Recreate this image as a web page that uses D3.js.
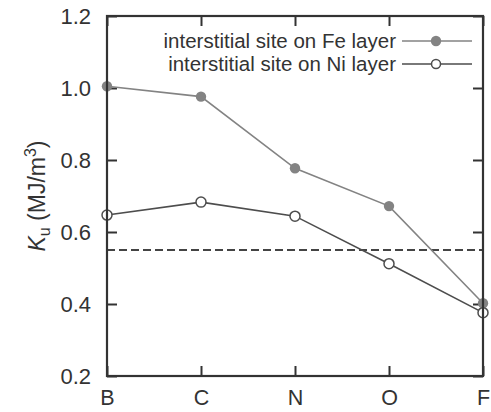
<!DOCTYPE html>
<html><head><meta charset="utf-8">
<script src="https://cdn.jsdelivr.net/npm/d3@7"></script>
<style>body{margin:0;background:#fff}svg{display:block;font-family:"Liberation Sans",Arial,sans-serif}</style>
</head><body><svg id="c" width="491" height="412"></svg>
<script>
const categories = ["B","C","N","O","F"];
const feValues = [1.005, 0.976, 0.777, 0.672, 0.402];
const niValues = [0.647, 0.683, 0.644, 0.512, 0.376];
const refValue = 0.55;
const yTicks = [0.2, 0.4, 0.6, 0.8, 1.0, 1.2];
const seriesNames = ["interstitial site on Fe layer","interstitial site on Ni layer"];

const svg = d3.select("#c");
const L=107, R=483, T=16, B=376;
const x = d3.scalePoint().domain(categories).range([L,R]);
const y = d3.scaleLinear().domain([0.2,1.2]).range([B,T]);
const axisCol="#333", feCol="#838383", niCol="#4d4d4d";
const tick=10;

// axes (inward ticks)
const gL = svg.append("g").attr("transform",`translate(${L},0)`)
  .call(d3.axisLeft(y).tickValues(yTicks).tickFormat(d3.format(".1f")).tickSizeInner(-tick).tickSizeOuter(0).tickPadding(16));
const gR = svg.append("g").attr("transform",`translate(${R},0)`)
  .call(d3.axisRight(y).tickValues(yTicks).tickFormat("").tickSizeInner(-tick).tickSizeOuter(0));
const gB = svg.append("g").attr("transform",`translate(0,${B})`)
  .call(d3.axisBottom(x).tickSizeInner(-tick).tickSizeOuter(0).tickPadding(14));
const gT = svg.append("g").attr("transform",`translate(0,${T})`)
  .call(d3.axisTop(x).tickFormat("").tickSizeInner(-tick).tickSizeOuter(0));
[gL,gR,gB,gT].forEach(g=>{
  g.select(".domain").remove();
  g.selectAll(".tick line").attr("stroke",axisCol).attr("stroke-width",2);
  g.selectAll("text").attr("fill","#333").attr("font-size",22).attr("font-family","Liberation Sans, Arial, sans-serif");
});
gL.selectAll("text").attr("dy","0.36em");
gB.selectAll("text").attr("dy","0.71em").attr("font-size",21.5);

// reference dashed line
svg.append("line").attr("x1",L).attr("x2",R).attr("y1",y(refValue)).attr("y2",y(refValue))
  .attr("stroke","#444").attr("stroke-width",1.8).attr("stroke-dasharray","8,4");

// legend background
svg.append("rect").attr("x",155).attr("y",30).attr("width",322).attr("height",46).attr("fill","#fff");

// series
const line = d3.line().x((d,i)=>x(categories[i])).y(d=>y(d));
svg.append("path").datum(feValues).attr("d",line).attr("fill","none").attr("stroke",feCol).attr("stroke-width",1.6);
svg.append("path").datum(niValues).attr("d",line).attr("fill","none").attr("stroke",niCol).attr("stroke-width",1.6);
svg.selectAll(".fe").data(feValues).join("circle").attr("cx",(d,i)=>x(categories[i])).attr("cy",d=>y(d))
  .attr("r",5.2).attr("fill",feCol);
svg.selectAll(".ni").data(niValues).join("circle").attr("cx",(d,i)=>x(categories[i])).attr("cy",d=>y(d))
  .attr("r",5).attr("fill","#fff").attr("stroke",niCol).attr("stroke-width",1.5);

// frame
svg.append("rect").attr("x",L).attr("y",T).attr("width",R-L).attr("height",B-T)
  .attr("fill","none").attr("stroke",axisCol).attr("stroke-width",2.2);

// legend
const leg = [{name:seriesNames[0],col:feCol,filled:true,yy:41},{name:seriesNames[1],col:niCol,filled:false,yy:64}];
leg.forEach(l=>{
  svg.append("text").attr("x",396).attr("y",l.yy).attr("dy","0.35em").attr("text-anchor","end")
    .attr("font-size",20.5).attr("fill","#333").text(l.name);
  svg.append("line").attr("x1",402).attr("x2",472).attr("y1",l.yy).attr("y2",l.yy).attr("stroke",l.col).attr("stroke-width",1.6);
  svg.append("circle").attr("cx",436).attr("cy",l.yy).attr("r",l.filled?5.2:4.5)
    .attr("fill",l.filled?l.col:"#fff").attr("stroke",l.filled?"none":l.col).attr("stroke-width",1.5);
});

// y title
const yt = svg.append("text").attr("transform","translate(45,196) rotate(-90)").attr("text-anchor","middle")
  .attr("font-size",23).attr("fill","#333");
yt.append("tspan").attr("font-style","italic").text("K");
yt.append("tspan").attr("font-size",16).attr("dy",5).text("u");
yt.append("tspan").attr("dy",-5).text(" (MJ/m");
yt.append("tspan").attr("font-size",16).attr("dy",-9).text("3");
yt.append("tspan").attr("dy",9).text(")");
</script></body></html>
